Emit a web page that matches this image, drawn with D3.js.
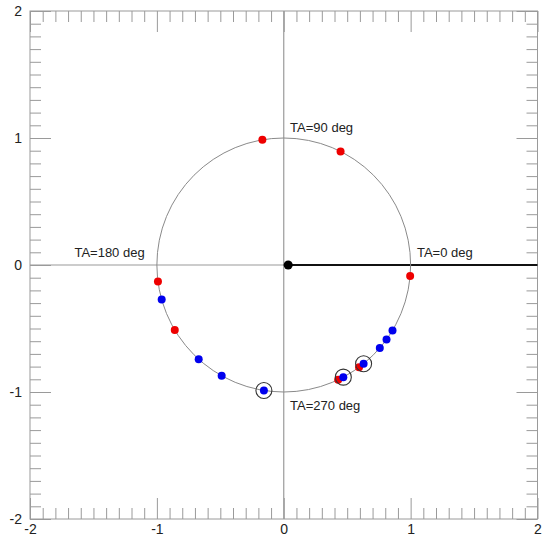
<!DOCTYPE html>
<html>
<head>
<meta charset="utf-8">
<script src="https://cdn.jsdelivr.net/npm/d3@7"></script>
<style>
  html, body { margin: 0; padding: 0; background: #fff; }
  svg { display: block; }
  text { font-family: "Liberation Sans", Arial, Helvetica, sans-serif; }
</style>
</head>
<body>
<svg id="chart" width="545" height="538"></svg>
<script>
// ---- data ----
const majorTicks = [-2, -1, 0, 1, 2];
const tickLabels = ["-2", "-1", "0", "1", "2"];
const minorStep = 0.1;
// true anomaly (deg) of observed points on the unit circle
const redTA = [99.7, 63.4, 355, 306.4, 295.4, 187.5, 210.8];
const blueTA = [329, 324.1, 319.2, 309, 298, 195.8, 227.9, 240.7, 261];
const circledTA = [309, 298, 261];
const focusPoint = [0.035, 0];
const taLabels = [
  { text: "TA=90 deg", x: 0.05, y: 1.05 },
  { text: "TA=180 deg", x: -1.65, y: 0.06 },
  { text: "TA=0 deg", x: 1.05, y: 0.06 },
  { text: "TA=270 deg", x: 0.05, y: -1.14 }
];

// ---- layout ----
const svg = d3.select("#chart");
const m = { left: 30, top: 11, right: 7.5, bottom: 19 };
const W = 545 - m.left - m.right, H = 538 - m.top - m.bottom;
const x = d3.scaleLinear().domain([-2, 2]).range([0, W]);
const y = d3.scaleLinear().domain([-2, 2]).range([H, 0]);
const g = svg.append("g").attr("transform", `translate(${m.left},${m.top})`);

const minorVals = d3.range(-20, 21).map(i => +(i * minorStep).toFixed(1)).filter(v => Math.abs(v % 1) > 1e-9);
const grey = "#9a9a9a";

function styleAxis(sel) {
  sel.select(".domain").remove();
  sel.selectAll(".tick line").attr("stroke", grey).attr("stroke-width", 1);
  sel.selectAll(".tick text").attr("font-size", 14).attr("fill", "#222")
    .attr("font-family", "'Liberation Sans', Arial, Helvetica, sans-serif");
}
const fmt = d => tickLabels[majorTicks.indexOf(d)];

// minor ticks, all sides, inward
g.append("g").call(d3.axisLeft(y).tickValues(minorVals).tickSize(-11).tickFormat("")).call(styleAxis);
g.append("g").attr("transform", `translate(${W},0)`).call(d3.axisRight(y).tickValues(minorVals).tickSize(-11).tickFormat("")).call(styleAxis);
g.append("g").attr("transform", `translate(0,${H})`).call(d3.axisBottom(x).tickValues(minorVals).tickSize(-11).tickFormat("")).call(styleAxis);
g.append("g").call(d3.axisTop(x).tickValues(minorVals).tickSize(-11).tickFormat("")).call(styleAxis);
// major ticks
g.append("g").call(d3.axisLeft(y).tickValues(majorTicks).tickSize(-21).tickPadding(8).tickFormat(fmt)).call(styleAxis);
g.append("g").attr("transform", `translate(${W},0)`).call(d3.axisRight(y).tickValues(majorTicks).tickSize(-21).tickFormat("")).call(styleAxis);
g.append("g").attr("transform", `translate(0,${H})`).call(d3.axisBottom(x).tickValues(majorTicks).tickSize(-21).tickPadding(5).tickFormat(fmt)).call(styleAxis);
g.append("g").call(d3.axisTop(x).tickValues(majorTicks).tickSize(-21).tickFormat("")).call(styleAxis);

// frame
g.append("rect").attr("width", W).attr("height", H).attr("fill", "none").attr("stroke", grey).attr("stroke-width", 1);

// axes through origin
g.append("line").attr("x1", x(0)).attr("x2", x(0)).attr("y1", 0).attr("y2", H).attr("stroke", grey).attr("stroke-width", 1.2);
g.append("line").attr("x1", 0).attr("x2", x(0)).attr("y1", y(0)).attr("y2", y(0)).attr("stroke", grey).attr("stroke-width", 1.2);
g.append("line").attr("x1", x(0)).attr("x2", W).attr("y1", y(0)).attr("y2", y(0)).attr("stroke", "#111").attr("stroke-width", 2);

// unit circle
g.append("ellipse").attr("cx", x(0)).attr("cy", y(0))
  .attr("rx", x(1) - x(0)).attr("ry", y(0) - y(1))
  .attr("fill", "none").attr("stroke", "#8a8a8a").attr("stroke-width", 1);

const rad = d => d * Math.PI / 180;
const px = d => x(Math.cos(rad(d))), py = d => y(Math.sin(rad(d)));

// points
g.selectAll(".red").data(redTA).join("circle").attr("class", "red")
  .attr("cx", px).attr("cy", py).attr("r", 4).attr("fill", "#ee0000");
g.selectAll(".blue").data(blueTA).join("circle").attr("class", "blue")
  .attr("cx", px).attr("cy", py).attr("r", 4).attr("fill", "#0000ee");
g.selectAll(".ring").data(circledTA).join("circle").attr("class", "ring")
  .attr("cx", px).attr("cy", py).attr("r", 8).attr("fill", "none").attr("stroke", "#333").attr("stroke-width", 1.1);

// focus
g.append("circle").attr("cx", x(focusPoint[0])).attr("cy", y(focusPoint[1])).attr("r", 4.5).attr("fill", "#000");

// labels
g.selectAll(".ta").data(taLabels).join("text").attr("class", "ta")
  .attr("x", d => x(d.x)).attr("y", d => y(d.y))
  .attr("font-size", 13).attr("fill", "#222").text(d => d.text);
</script>
</body>
</html>
